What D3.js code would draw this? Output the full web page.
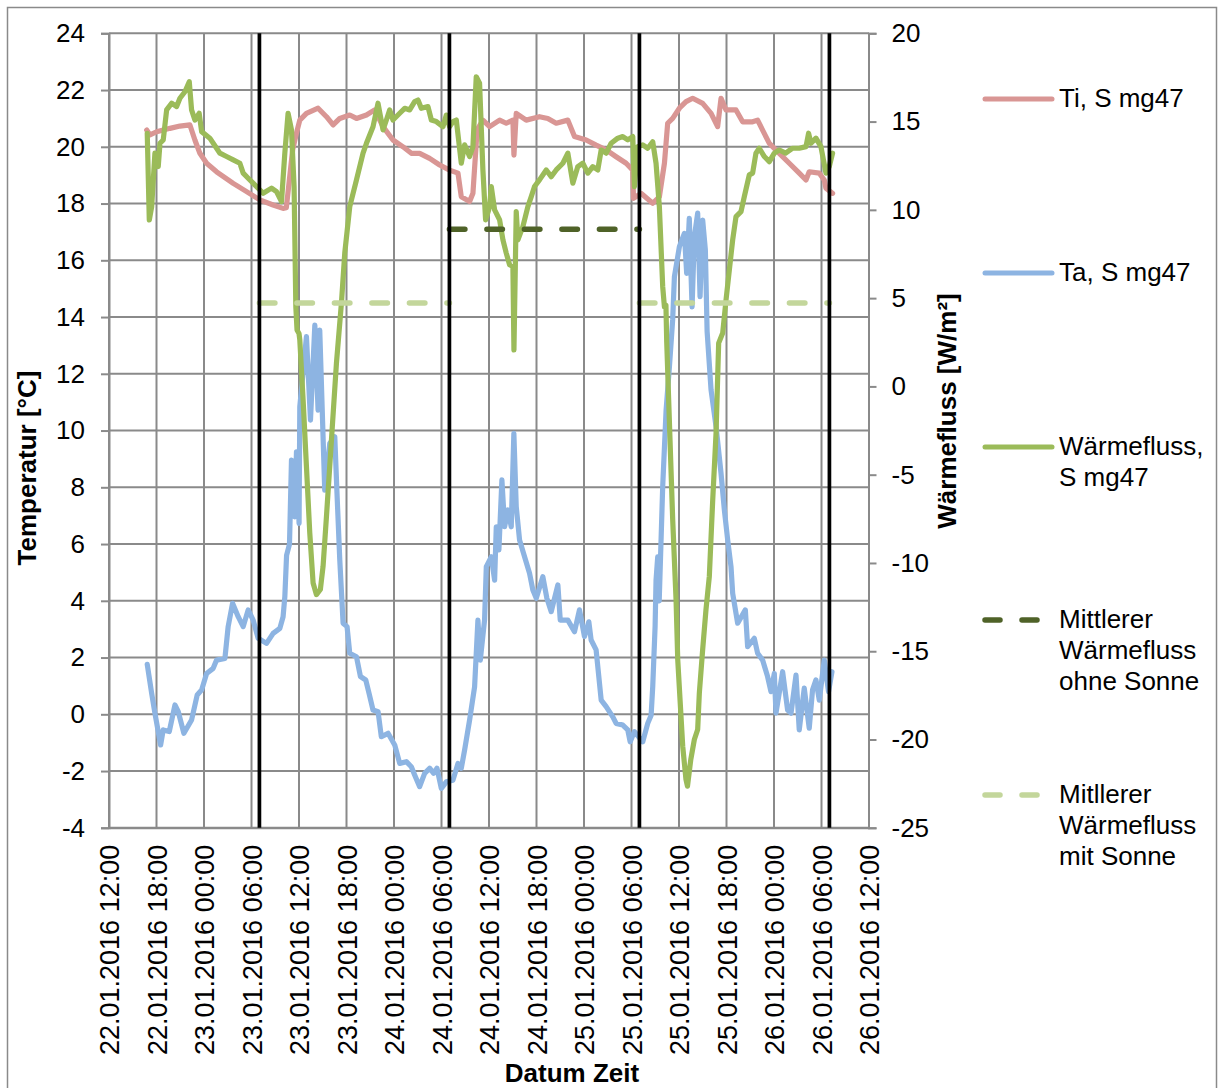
<!DOCTYPE html>
<html><head><meta charset="utf-8">
<script src="https://cdn.jsdelivr.net/npm/d3@7"></script>
<style>
html,body{margin:0;padding:0;background:#fff;}
svg{display:block;font-family:"Liberation Sans",Arial,sans-serif;}
</style></head>
<body>
<svg id="chart" width="1220" height="1088"></svg>
<script>
// ---- DATA (hours since 22.01.2016 12:00, value) ----
const startTime = new Date(2016, 0, 22, 12, 0);
const xTickHours = [0,6,12,18,24,30,36,42,48,54,60,66,72,78,84,90,96];
const leftTicks = [-4,-2,0,2,4,6,8,10,12,14,16,18,20,22,24];
const rightTicks = [-25,-20,-15,-10,-5,0,5,10,15,20];
const markerHours = [19, 43, 67, 91];

const tiSeries = [[4.76,20.59],[5.17,20.42],[6.02,20.53],[7.7,20.65],[8.96,20.73],[10.22,20.77],[10.85,20.24],[11.48,19.77],[12.33,19.42],[13.59,19.12],[15.69,18.71],[17.38,18.42],[19.05,18.13],[20.73,17.95],[21.99,17.83],[22.4,17.85],[23.2,19.9],[23.68,20.48],[24.1,20.94],[24.94,21.18],[26.41,21.36],[27.47,21.06],[28.31,20.77],[29.15,21.0],[30.41,21.12],[31.26,21.0],[32.52,21.12],[33.56,21.3],[34.61,20.71],[35.87,20.24],[37.14,20.0],[38.19,19.77],[39.24,19.77],[40.5,19.59],[41.77,19.36],[43.03,19.18],[44.08,19.07],[44.5,18.24],[45.55,18.07],[45.97,18.36],[46.5,20.6],[47.23,20.94],[48.08,20.71],[49.34,20.94],[50.18,20.83],[51.02,20.94],[51.15,19.71],[51.44,21.18],[52.7,20.94],[54.38,21.06],[55.43,21.0],[56.49,20.83],[57.96,20.94],[58.8,20.36],[60.28,20.24],[61.53,20.06],[62.8,19.89],[64.06,19.65],[65.32,19.42],[66.16,19.18],[66.25,18.18],[67.2,18.36],[68.68,18.01],[69.52,18.24],[70.16,19.42],[70.57,20.83],[71.2,21.0],[72.05,21.36],[72.89,21.59],[73.73,21.71],[74.99,21.53],[76.05,21.18],[76.88,20.71],[77.31,21.71],[77.94,21.3],[79.2,21.3],[80.04,20.88],[81.3,20.88],[81.93,20.94],[82.56,20.59],[83.41,20.12],[84.67,19.77],[85.93,19.42],[87.19,19.07],[88.04,18.83],[88.45,19.12],[89.72,19.07],[90.35,18.83],[90.56,18.54],[91.4,18.36]];

const taSeries = [[4.83,1.76],[5.39,0.74],[5.8,0.04],[6.52,-1.08],[6.85,-0.55],[7.61,-0.61],[8.33,0.33],[8.75,0.09],[9.46,-0.67],[10.43,-0.2],[11.14,0.68],[11.7,0.86],[12.33,1.44],[13.16,1.62],[13.59,1.91],[14.64,1.97],[15.05,3.09],[15.61,3.91],[16.32,3.44],[16.95,3.09],[17.58,3.68],[18.21,3.32],[18.84,2.68],[19.9,2.5],[20.73,2.85],[21.58,3.03],[21.99,3.44],[22.21,4.14],[22.43,5.6],[22.8,6.0],[23.05,8.96],[23.47,6.96],[23.68,9.25],[24.01,6.73],[24.1,10.84],[24.94,13.31],[25.45,10.37],[26.0,13.72],[26.41,10.72],[26.62,13.54],[27.25,7.9],[27.89,9.55],[28.52,9.78],[28.8,7.79],[29.15,5.44],[29.57,3.21],[30.07,3.09],[30.41,2.15],[31.26,2.03],[31.76,1.33],[32.43,1.21],[32.85,0.74],[33.35,0.15],[33.99,0.09],[34.4,-0.79],[35.25,-0.67],[36.09,-1.08],[36.72,-1.73],[37.56,-1.67],[38.19,-1.85],[38.61,-2.14],[39.24,-2.55],[39.87,-2.08],[40.5,-1.9],[41.01,-2.08],[41.43,-1.9],[41.98,-2.61],[42.61,-2.38],[43.45,-2.32],[44.08,-1.73],[44.5,-1.9],[44.92,-1.26],[45.55,-0.2],[46.18,0.97],[46.6,3.32],[46.9,1.91],[47.44,3.32],[47.66,5.2],[48.29,5.55],[48.71,4.73],[48.92,6.61],[49.25,5.79],[49.63,8.26],[49.97,6.61],[50.39,7.2],[50.81,6.61],[51.14,9.9],[51.44,7.32],[51.86,6.14],[52.37,5.67],[53.12,4.97],[53.54,4.38],[53.97,4.09],[54.8,4.85],[55.31,4.09],[55.86,3.62],[56.7,4.56],[57.0,3.32],[57.96,3.32],[58.8,2.91],[59.43,3.68],[60.06,2.74],[60.61,3.26],[60.9,2.62],[61.53,2.27],[62.17,0.5],[62.8,0.27],[63.64,-0.09],[64.06,-0.32],[64.9,-0.38],[65.53,-0.55],[65.83,-0.97],[66.37,-0.61],[67.42,-0.97],[68.05,-0.32],[68.48,-0.03],[68.68,0.97],[68.98,3.09],[69.1,4.73],[69.31,5.55],[69.5,4.0],[69.94,8.02],[70.37,10.72],[70.79,12.25],[71.2,13.9],[71.42,15.42],[72.05,16.48],[72.68,16.95],[72.97,15.54],[73.3,17.48],[73.65,14.36],[73.94,16.83],[74.36,17.66],[74.66,14.72],[74.99,17.42],[75.33,16.36],[75.55,13.5],[76.05,11.43],[76.68,10.14],[77.31,8.49],[77.73,7.2],[78.15,6.14],[78.57,5.2],[78.78,4.26],[79.41,3.21],[80.38,3.68],[80.67,2.38],[81.51,2.68],[81.93,2.15],[82.56,1.91],[83.19,1.33],[83.62,0.8],[84.04,1.44],[84.25,0.04],[85.09,1.5],[85.72,0.15],[86.15,0.04],[86.78,1.38],[87.19,-0.55],[87.82,0.92],[88.45,-0.49],[88.87,0.86],[89.3,1.21],[89.72,0.5],[90.35,1.91],[90.89,0.8],[91.32,1.5]];

const heatSeries = [[4.83,14.34],[5.09,9.43],[5.39,10.18],[5.8,13.21],[6.22,12.45],[6.44,13.77],[6.85,13.96],[7.28,15.66],[7.91,16.04],[8.54,15.85],[8.96,16.32],[9.59,16.69],[10.14,17.26],[10.43,15.66],[10.85,15.09],[11.39,15.47],[11.7,14.43],[12.74,14.06],[13.59,13.49],[14.01,13.21],[14.85,13.02],[15.69,12.83],[16.53,12.64],[16.95,12.08],[17.58,11.79],[18.64,11.32],[19.47,10.94],[20.53,11.23],[21.16,11.03],[21.79,10.47],[22.21,13.21],[22.62,15.47],[23.05,14.53],[23.38,11.32],[23.6,4.5],[23.75,3.2],[24.0,3.0],[24.1,2.64],[24.52,-0.76],[24.94,-4.53],[25.36,-8.3],[25.78,-11.13],[26.2,-11.79],[26.7,-11.5],[27.04,-10.19],[27.47,-7.36],[28.1,-3.02],[28.73,1.32],[29.36,4.72],[29.78,7.55],[30.41,10.18],[31.26,11.7],[32.09,13.21],[32.52,13.77],[33.35,14.71],[33.98,16.04],[34.61,14.53],[35.04,15.09],[35.46,15.66],[35.87,15.09],[36.72,15.47],[37.35,15.75],[37.98,15.66],[38.61,16.13],[39.03,16.22],[39.45,15.75],[40.29,15.85],[40.72,15.09],[41.35,15.0],[42.18,14.71],[42.61,15.37],[43.03,14.71],[43.45,15.0],[43.87,15.09],[44.5,12.64],[44.92,13.68],[45.55,13.02],[45.97,13.58],[46.39,17.54],[46.81,17.17],[47.23,12.26],[47.57,9.43],[48.08,10.18],[48.29,11.32],[48.71,10.0],[49.34,9.43],[49.76,8.3],[50.18,7.55],[50.6,6.89],[51.02,6.79],[51.15,2.07],[51.44,9.9],[51.65,8.3],[52.28,9.05],[52.91,10.18],[53.34,10.75],[53.75,11.32],[54.38,11.7],[55.23,12.26],[55.86,11.88],[56.49,12.26],[57.33,12.64],[57.96,13.21],[58.59,11.51],[59.22,12.45],[59.85,12.64],[60.48,12.08],[61.11,12.45],[61.74,12.26],[62.17,13.39],[62.8,13.21],[63.43,13.77],[64.27,14.06],[64.9,14.15],[65.53,13.96],[66.16,14.15],[66.37,11.32],[66.79,13.58],[67.42,13.68],[68.05,13.49],[68.68,13.86],[69.1,12.64],[69.52,10.18],[69.94,5.66],[70.16,4.5],[70.35,4.6],[70.45,2.5],[71.2,-7.5],[71.63,-12.1],[71.84,-15.47],[72.47,-20.38],[72.88,-22.26],[73.07,-22.64],[73.49,-21.13],[73.94,-20.0],[74.36,-19.43],[74.57,-17.36],[74.99,-14.9],[75.41,-12.64],[75.83,-10.76],[76.26,-6.42],[76.68,-2.64],[77.01,2.45],[77.52,3.02],[77.94,4.9],[78.78,8.3],[79.2,9.62],[79.83,9.9],[80.25,10.75],[80.88,11.98],[81.3,12.08],[81.72,13.21],[82.14,13.49],[82.78,13.02],[83.41,12.73],[84.04,13.21],[84.67,13.39],[85.47,13.21],[86.35,13.49],[87.19,13.49],[88.04,13.58],[88.37,14.34],[88.67,13.77],[89.3,14.06],[89.93,13.58],[90.56,12.08],[90.98,12.45],[91.4,13.21]];

// mean heat flux: [startHour, endHour, value W/m²]
const meanWithoutSun = [[43, 67, 8.9]];
const meanWithSun = [[19, 43, 4.72], [67, 91, 4.72]];

const legendItems = [
  {lines:["Ti, S mg47"], color:"#D99694", dash:null, y:99},
  {lines:["Ta, S mg47"], color:"#8DB4E2", dash:null, y:273},
  {lines:["Wärmefluss,","S mg47"], color:"#9BBB59", dash:null, y:447},
  {lines:["Mittlerer","Wärmefluss","ohne Sonne"], color:"#4F6228", dash:"15,22", y:620},
  {lines:["Mitllerer","Wärmefluss","mit Sonne"], color:"#C3D69B", dash:"15,22", y:795}
];

// ---- CHART ----
const svg = d3.select("#chart");
const plot = {left:109, right:869, top:33.3, bottom:827.8};
const hToDate = h => new Date(startTime.getTime() + h*3600e3);
const x = d3.scaleTime().domain([hToDate(0), hToDate(96)]).range([plot.left, plot.right]);
const yL = d3.scaleLinear().domain([-4, 24]).range([plot.bottom, plot.top]);
const yR = d3.scaleLinear().domain([-25, 20]).range([plot.bottom, plot.top]);
const fmt = d3.timeFormat("%d.%m.%Y %H:%M");
const numFmt = d => String(d);
const gridColor = "#8a8a8a";
const FONT = "Liberation Sans, Arial, sans-serif";

// outer border
svg.append("rect").attr("x",7.5).attr("y",7.5).attr("width",1209).attr("height",1090)
  .attr("fill","none").attr("stroke","#8a8a8a").attr("stroke-width",1.5);

// gridlines
svg.append("g").selectAll("line").data(leftTicks).join("line")
  .attr("x1",plot.left).attr("x2",plot.right)
  .attr("y1",d=>yL(d)).attr("y2",d=>yL(d))
  .attr("stroke",gridColor).attr("stroke-width",2);
svg.append("g").selectAll("line").data(xTickHours).join("line")
  .attr("x1",d=>x(hToDate(d))).attr("x2",d=>x(hToDate(d)))
  .attr("y1",plot.top).attr("y2",plot.bottom)
  .attr("stroke",gridColor).attr("stroke-width",2);

// left axis
const gL = svg.append("g").attr("transform",`translate(${plot.left},0)`)
  .call(d3.axisLeft(yL).tickValues(leftTicks).tickSize(8).tickPadding(16).tickFormat(numFmt));
gL.select(".domain").attr("stroke",gridColor).attr("stroke-width",2);
gL.selectAll(".tick line").attr("stroke",gridColor).attr("stroke-width",2);
gL.selectAll(".tick text").attr("font-size",26).attr("fill","#000").attr("font-family",FONT);

// right axis
const gR = svg.append("g").attr("transform",`translate(${plot.right-0.5},0)`)
  .call(d3.axisRight(yR).tickValues(rightTicks).tickSize(8).tickPadding(15).tickFormat(numFmt));
gR.select(".domain").attr("stroke",gridColor).attr("stroke-width",2);
gR.selectAll(".tick line").attr("stroke",gridColor).attr("stroke-width",2);
gR.selectAll(".tick text").attr("font-size",26).attr("fill","#000").attr("font-family",FONT);

// bottom axis
const gB = svg.append("g").attr("transform",`translate(0,${plot.bottom})`)
  .call(d3.axisBottom(x).tickValues(xTickHours.map(hToDate)).tickSize(0).tickFormat(fmt));
gB.select(".domain").attr("stroke",gridColor).attr("stroke-width",2);
gB.selectAll(".tick text")
  .attr("font-size",27).attr("fill","#000").attr("font-family",FONT)
  .attr("text-anchor","end").attr("dy",null)
  .attr("transform","translate(9.5,17) rotate(-90)")
  .attr("x",0).attr("y",0);

// series
const lineL = d3.line().x(d=>x(hToDate(d[0]))).y(d=>yL(d[1]));
const lineR = d3.line().x(d=>x(hToDate(d[0]))).y(d=>yR(d[1]));
const sStyle = (sel,color)=>sel.attr("fill","none").attr("stroke",color).attr("stroke-width",5.2)
  .attr("stroke-linejoin","round").attr("stroke-linecap","round");
sStyle(svg.append("path").datum(tiSeries).attr("d",lineL),"#D99694");
sStyle(svg.append("path").datum(taSeries).attr("d",lineL),"#8DB4E2");
sStyle(svg.append("path").datum(heatSeries).attr("d",lineR),"#9BBB59");

// mean lines
const meanLine = (data,color)=>svg.append("g").selectAll("line").data(data).join("line")
  .attr("x1",d=>x(hToDate(d[0]))).attr("x2",d=>x(hToDate(d[1])))
  .attr("y1",d=>yR(d[2])).attr("y2",d=>yR(d[2]))
  .attr("stroke",color).attr("stroke-width",5.5).attr("stroke-dasharray","15.5,22")
  .attr("stroke-linecap","round");
meanLine(meanWithoutSun,"#4F6228");
meanLine(meanWithSun,"#C3D69B");

// black marker lines
svg.append("g").selectAll("line").data(markerHours).join("line")
  .attr("x1",d=>x(hToDate(d))).attr("x2",d=>x(hToDate(d)))
  .attr("y1",plot.top).attr("y2",plot.bottom)
  .attr("stroke","#000").attr("stroke-width",3.7);

// axis titles
svg.append("text").attr("transform","translate(36,468) rotate(-90)")
  .attr("text-anchor","middle").attr("font-size",26).attr("font-weight","bold").text("Temperatur [°C]");
svg.append("text").attr("transform","translate(956,411) rotate(-90)")
  .attr("text-anchor","middle").attr("font-size",26).attr("font-weight","bold").text("Wärmefluss [W/m²]");
svg.append("text").attr("x",572).attr("y",1082)
  .attr("text-anchor","middle").attr("font-size",26).attr("font-weight","bold").text("Datum Zeit");

// legend
const lg = svg.append("g");
legendItems.forEach(it=>{
  const ln = lg.append("line").attr("x1",985).attr("x2",1052).attr("y1",it.y).attr("y2",it.y)
    .attr("stroke",it.color).attr("stroke-width",it.dash?5.5:5).attr("stroke-linecap","round");
  if (it.dash) ln.attr("x2",1059).attr("stroke-dasharray",it.dash);
  const t = lg.append("text").attr("x",1059).attr("y",it.y+8).attr("font-size",26).attr("fill","#000");
  it.lines.forEach((s,i)=>t.append("tspan").attr("x",1059).attr("dy",i===0?0:30.8).text(s));
});
</script>
</body></html>
